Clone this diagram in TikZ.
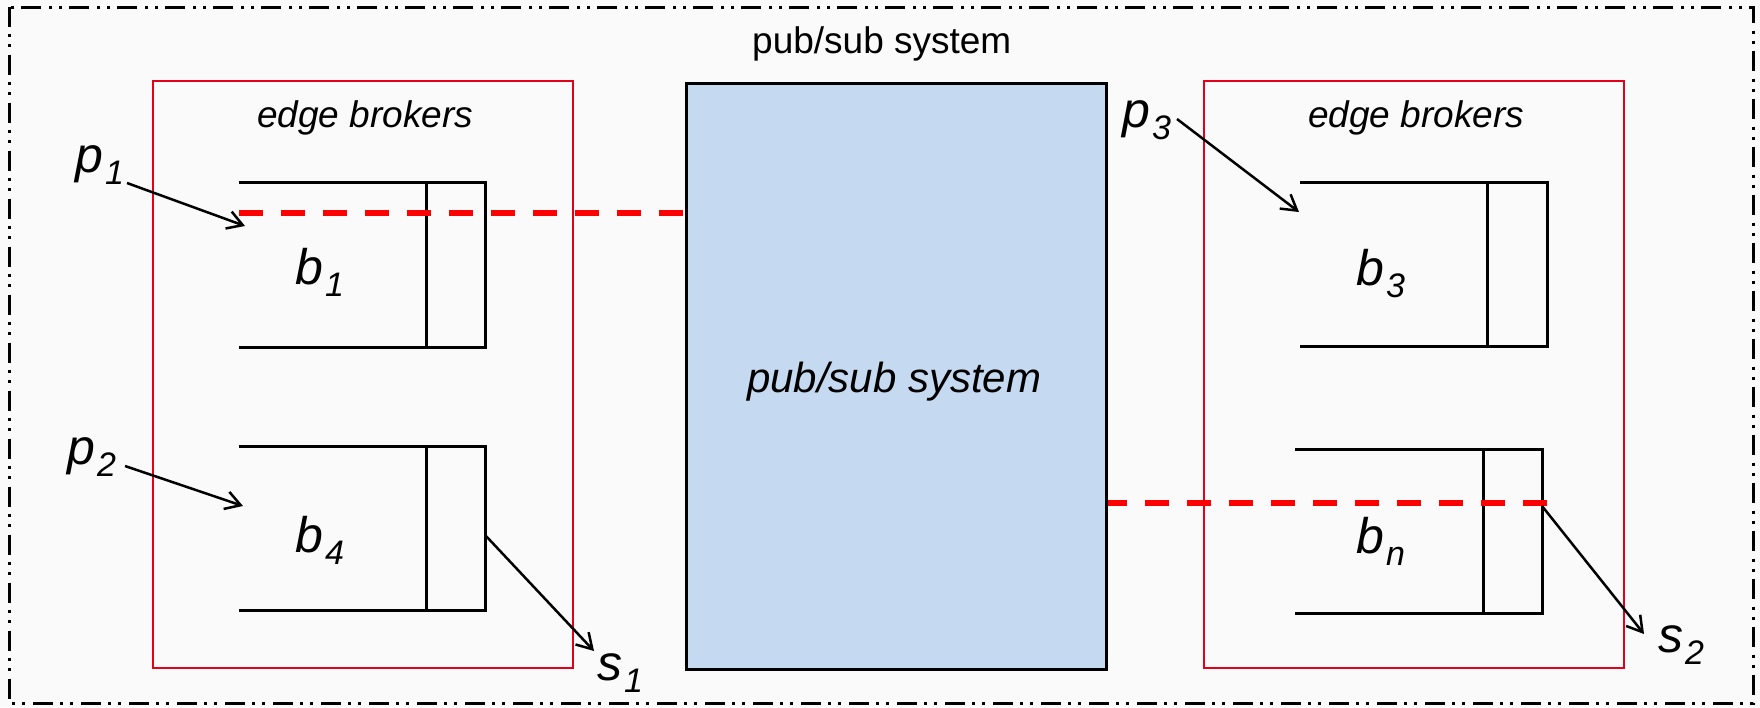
\documentclass[tikz,border=0pt]{standalone}
\usepackage{fontspec}
\setmainfont{Liberation Sans}
\usetikzlibrary{arrows.meta}
\definecolor{bgc}{RGB}{250,250,250}
\definecolor{boxred}{RGB}{226,0,26}
\definecolor{sysblue}{RGB}{197,217,240}
\tikzset{
 frame/.style={line width=3pt, dash pattern=on 20pt off 7pt on 3pt off 7pt on 3pt off 8pt},
 edgebox/.style={draw=boxred, line width=2.5pt},
 sysbox/.style={draw=black, line width=3pt, fill=sysblue},
 queue/.style={line width=3pt},
 route/.style={draw=red, line width=6pt, dash pattern=on 24pt off 18pt},
 flow/.style={line width=2.5pt, -{Straight Barb[length=15pt,width=18pt]}},
 lbl/.style={inner sep=0pt, anchor=base west},
}
\newcommand\bigsym[2]{{\fontsize{50}{58}\selectfont\itshape #1\hspace{2pt}\raisebox{-12pt}{\fontsize{34}{38}\selectfont #2}}}
\newcommand\midtext{\fontsize{37}{44}\selectfont}
\begin{document}
\begin{tikzpicture}[x=1pt,y=-1pt]
\fill[bgc] (0,0) rectangle (1760,707);
\useasboundingbox (0,0) rectangle (1760,707);
% outer frame
\draw[frame] (9,7) rectangle (1753,703);
\node[lbl] (title) at (752,53) {\midtext pub/sub system};
% edge broker boxes
\draw[edgebox] (153,81) rectangle (573,668);
\draw[edgebox] (1204,81) rectangle (1624,668);
\node[lbl] (ebl) at (257,127) {\midtext\itshape edge brokers};
\node[lbl] (ebr) at (1308,127) {\midtext\itshape edge brokers};
% central system
\node[sysbox, minimum width=420pt, minimum height=586pt, inner sep=0pt, anchor=north west] (sys) at (685,82) {};
\node[lbl] (systext) at (747,392) {\fontsize{42}{50}\selectfont\itshape pub/sub system};
% queues
\draw[queue] (239,182) -- (485,182) -- (485,347) -- (239,347);
\draw[queue] (426,182) -- (426,347);
\draw[queue] (239,446) -- (485,446) -- (485,610) -- (239,610);
\draw[queue] (426,446) -- (426,610);
\draw[queue] (1300,182) -- (1547,182) -- (1547,346) -- (1300,346);
\draw[queue] (1487,182) -- (1487,346);
\draw[queue] (1295,449) -- (1542,449) -- (1542,613) -- (1295,613);
\draw[queue] (1483,449) -- (1483,613);
\coordinate (q1in) at (239,213);
\coordinate (qnout) at (1547,503);
\coordinate (sysL) at (sys.west |- q1in);
\coordinate (sysR) at (sys.east |- qnout);
% routes
\draw[route] (q1in) -- (sysL);
\draw[route] (qnout) -- (sysR);
% labels
\node[lbl] (b1) at (295,284) {\bigsym{b}{1}};
\node[lbl] (b4) at (295,552) {\bigsym{b}{4}};
\node[lbl] (b3) at (1356,285) {\bigsym{b}{3}};
\node[lbl] (bn) at (1356,553) {\bigsym{b}{n}};
\node[lbl] (p1) at (75,172) {\bigsym{p}{1}};
\node[lbl] (p2) at (67,464) {\bigsym{p}{2}};
\node[lbl] (p3) at (1122,127) {\bigsym{p}{3}};
\node[lbl] (s1) at (597,680) {\bigsym{s}{1}};
\node[lbl] (s2) at (1658,652) {\bigsym{s}{2}};
% arrows
\coordinate (p1o) at (127,183); \coordinate (p1t) at (245,226);
\coordinate (p2o) at (125,466); \coordinate (p2t) at (243,506);
\coordinate (p3o) at (1177,119); \coordinate (p3t) at (1299,212);
\coordinate (s1o) at (486,536); \coordinate (s1t) at (594,651);
\coordinate (s2o) at (1542,506); \coordinate (s2t) at (1644,634);
\draw[flow] (p1o) -- (p1t);
\draw[flow] (p2o) -- (p2t);
\draw[flow] (p3o) -- (p3t);
\draw[flow] (s1o) -- (s1t);
\draw[flow] (s2o) -- (s2t);
\end{tikzpicture}
\end{document}
